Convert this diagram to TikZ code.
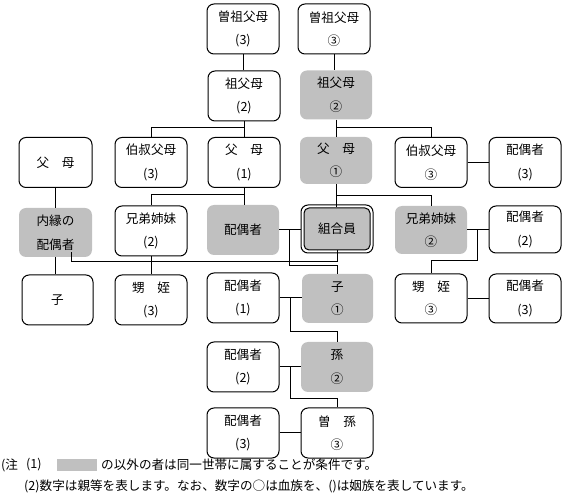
\documentclass[tikz,border=0pt]{standalone}
\usepackage{fontspec}
\setmainfont{Noto Sans CJK JP}
\usetikzlibrary{calc}
\definecolor{shade}{RGB}{192,192,192}
\begin{document}
\begin{tikzpicture}[x=1pt,y=-1pt,
  every node/.style={inner sep=0pt, font=\fontsize{12.6}{23.5}\selectfont},
  wbox/.style={draw, line width=1pt, rounded corners=7pt, fill=white, minimum width=72pt, minimum height=50pt, align=center},
  gbox/.style={fill=shade, rounded corners=7pt, minimum width=72pt, minimum height=49pt, align=center},
  link/.style={line width=1pt}
]
\useasboundingbox (0,0) rectangle (565,502);

% row 0
\node[wbox] (ggpA) at (243,29) {曽祖父母\\(3)};
\node[wbox] (ggpB) at (334,29) {曽祖父母\\③};
% row 1
\node[wbox] (gpA) at (244,96) {祖父母\\(2)};
\node[gbox] (gpB) at (336,95) {祖父母\\②};
% row 2
\node[wbox, minimum width=73pt] (parL) at (55.5,162.5) {父　母};
\node[wbox] (uncA) at (151,162.5) {伯叔父母\\(3)};
\node[wbox] (parA) at (244,162.5) {父　母\\(1)};
\node[gbox, minimum height=47pt] (parB) at (336,160.5) {父　母\\①};
\node[wbox] (uncB) at (431,162.5) {伯叔父母\\③};
\node[wbox] (spuB) at (525,162.5) {配偶者\\(3)};
% row 3
\node[gbox, minimum width=73pt] (naien) at (55.5,232.5) {内縁の\\配偶者};
\node[wbox] (sibA) at (151,231) {兄弟姉妹\\(2)};
\node[gbox, minimum height=50pt] (spM) at (243,230) {配偶者};
\node[draw, line width=1pt, rounded corners=7pt, fill=white, minimum width=72pt, minimum height=48pt] (kumiai) at (337,229) {};
\node[draw, line width=1pt, rounded corners=5pt, fill=shade, minimum width=66pt, minimum height=42pt] (kin) at (337,229) {組合員};
\node[gbox, minimum height=48pt] (sibB) at (431,230) {兄弟姉妹\\②};
\node[wbox, minimum height=47pt] (spS) at (525,229.5) {配偶者\\(2)};
% row 4
\node[wbox, minimum width=71pt] (childL) at (57.5,300) {子};
\node[wbox] (nepA) at (151,300) {甥　姪\\(3)};
\node[wbox] (sp1) at (243,298) {配偶者\\(1)};
\node[gbox, minimum width=71pt] (child) at (337.5,298.5) {子\\①};
\node[wbox, minimum height=49pt] (nepB) at (431,298.5) {甥　姪\\③};
\node[wbox, minimum height=49pt] (spN) at (525,298.5) {配偶者\\(3)};
% row 5
\node[wbox] (sp2) at (243,367) {配偶者\\(2)};
\node[gbox, minimum height=50pt] (gc) at (337,367) {孫\\②};
% row 6
\node[wbox] (sp3) at (243,433) {配偶者\\(3)};
\node[wbox] (ggc) at (337,433) {曽　孫\\③};

% connectors
\draw[link] (ggpA.south) -- (ggpA.south |- gpA.north);
\draw[link] (ggpB.south) -- (ggpB.south |- gpB.north);
\draw[link] (gpA.south) -- (gpA.south |- parA.north);
\draw[link] ($(gpA.south)+(0,6)$) -| (uncA.north);
\draw[link] (gpB.south) -- (gpB.south |- parB.north);
\draw[link] ($(gpB.south)+(0,8)$) -| (uncB.north);
\draw[link] (uncB.east) -- (spuB.west);
\draw[link] (parL.south) -- (parL.south |- naien.north);
\draw[link] (naien.south) -- (naien.south |- childL.north);
\draw[link] (parA.south) -- (parA.south |- spM.north);
\draw[link] ($(parA.south)+(0,7)$) -| (sibA.north);
\draw[link] (parB.south) -- (parB.south |- kin.north);
\draw[link] ($(parB.south)+(0,11)$) -| (sibB.north);
\draw[link] (spM.east) -- (spM.east -| kumiai.west);
\coordinate (m1) at ($(spM.east)!0.5!(spM.east -| kumiai.west)$);
\draw[link] (m1) |- ($(child.north)+(0,-8)$) -- (child.north);
\coordinate (nt) at ($(naien.south)+(16,-5)$);
\draw[link] (nt) |- ($(kin.south)+(0,11)$) -- (kin.south);
\draw[link] (sibA.south) -- (sibA.south |- nepA.north);
\draw[link] (sibB.east) -- (sibB.east -| spS.west);
\coordinate (m2) at ($(sibB.east)!0.5!(sibB.east -| spS.west)$);
\draw[link] (m2) |- ($(nepB.north)+(0,-13)$) -- (nepB.north);
\draw[link] (nepB.east) -- (spN.west);
\draw[link] (sp1.east) -- (sp1.east -| child.west);
\coordinate (m3) at ($(sp1.east)!0.5!(sp1.east -| child.west)$);
\draw[link] (m3) |- ($(gc.north)+(0,-10)$) -- (gc.north);
\draw[link] (sp2.east) -- (sp2.east -| gc.west);
\coordinate (m4) at ($(sp2.east)!0.5!(sp2.east -| gc.west)$);
\draw[link] (m4) |- ($(ggc.north)+(0,-9)$) -- (ggc.north);
\draw[link] (sp3.east) -- (sp3.east -| ggc.west);

% notes
\node[anchor=west] (n1a) at (1,465) {(注};
\node[anchor=west] (n1b) at (26,465) {(1)};
\node[fill=shade, minimum width=40pt, minimum height=12pt, anchor=west] (legend) at (57,465) {};
\node[anchor=west] (n1c) at (101,465) {の以外の者は同一世帯に属することが条件です。};
\node[anchor=west] (n2) at (24,486) {(2)数字は親等を表します。なお、数字の○は血族を、()は姻族を表しています。};
\end{tikzpicture}
\end{document}
